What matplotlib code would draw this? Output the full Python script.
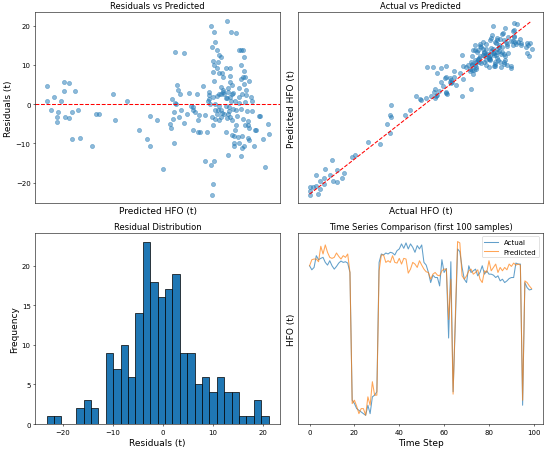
import numpy as np
import matplotlib
matplotlib.use("Agg")
import matplotlib.pyplot as plt

# ---- scatter data: predicted HFO (t) and residuals (t) ----
predicted = [
    18.65, 18.35, 26.85, 29.5, 27.15, 32.65, 22.0, 25.35, 20.5, 23.85,
    23.65, 23.35, 27.35, 29.35, 31.15, 34.15, 31.0, 35.0, 40.85, 42.85,
    44.35, 51.5, 52.5, 58.5, 64.35, 68.5, 70.15, 70.15, 73.5, 76.35,
    82.5, 87.0, 81.0, 83.35, 84.0, 85.0, 82.65, 83.15, 82.15, 81.35,
    80.0, 80.5, 82.15, 85.5, 84.65, 86.85, 88.65, 89.65, 93.35, 90.5,
    91.65, 91.35, 92.5, 91.65, 94.0, 94.85, 94.65, 94.0, 96.65, 97.35,
    98.65, 97.5,
    108.35, 100.5, 102.0, 110.35, 112.85, 102.5, 100.85, 103.35, 114.35, 115.35,
    116.5, 116.85, 104.5, 105.35, 101.5, 104.15, 102.0, 115.35, 103.35, 101.35,
    104.65, 108.0, 110.0, 105.85, 109.85, 106.65, 102.15, 109.85, 115.5, 116.35,
    117.5, 117.15, 119.35, 105.65, 106.35, 104.65, 105.5, 107.15, 109.0, 110.85,
    111.5, 99.5, 99.35, 101.35, 107.85, 108.5, 114.35, 116.0, 118.0, 118.15,
    120.5, 98.85, 100.0, 110.5, 112.5, 114.35, 121.15, 102.5, 104.65, 105.35,
    104.15, 108.0, 109.5, 109.65, 111.65, 113.0, 115.65, 118.65, 120.85, 124.65,
    102.5, 103.35, 105.5, 107.0, 108.35, 110.15, 111.0, 101.15, 102.65, 104.5,
    101.65, 113.35, 113.0, 116.65, 119.15, 118.85, 117.65, 119.65, 122.5, 123.0,
    128.85, 129.35, 126.35, 108.0, 112.65, 111.15, 111.85, 114.0, 116.0, 118.85,
    119.65, 112.0, 114.65, 117.15, 116.15, 112.15, 121.85, 115.5, 108.85, 102.0,
    100.35, 101.35, 101.15, 127.65, 99.65, 125.0,
    106.5, 108.85, 110.0, 103.5, 111.0, 106.0, 109.0, 114.5, 117.0, 117.5,
]
residuals = [
    4.6, 0.8, 5.6, 5.5, 3.3, 3.3, 1.8, 0.8, -1.5, -2.1,
    -3.4, -4.6, -3.2, -3.5, -2.0, -1.6, -8.8, -8.7, -10.7, -2.6,
    -2.5, 2.7, -4.0, 0.8, -6.5, -8.8, -3.1, -10.7, -4.0, -16.6,
    13.4, 13.1, 1.3, 4.9, 3.6, 2.6, 0.2, 0.1, -1.9, -3.9,
    -5.1, -6.1, -9.8, -1.5, -3.2, -4.9, -2.6, 2.9, 2.7, -0.4,
    -0.7, -1.5, -2.1, -6.6, -7.0, -7.0, -2.7, -4.1, 4.5, -2.8,
    -7.1, -14.4,
    21.2, 19.8, 18.5, 18.4, 18.1, 15.9, 14.6, 13.8, 13.8, 13.8,
    13.8, 11.9, 12.5, 12.1, 11.0, 10.8, 10.0, 10.1, 9.2, 8.3,
    8.0, 9.3, 9.2, 8.0, 7.1, 6.9, 5.8, 5.6, 6.3, 6.8,
    6.8, 5.2, 5.8, 4.3, 3.0, 2.5, 2.5, 2.5, 4.2, 2.5,
    2.9, 2.3, 1.4, 1.7, 1.5, 1.5, 1.9, 2.5, 3.7, 2.4,
    1.7, 0.8, 0.0, 0.8, 0.8, 0.2, 0.8, 0.0, -0.4, -1.5,
    -1.5, -0.4, -0.7, -1.7, -1.3, -1.5, -1.3, -1.7, -1.7, -3.1,
    -1.5, -2.6, -3.2, -2.6, -3.6, -3.4, -4.0, -3.4, -3.8, -4.0,
    -5.3, -3.1, -5.3, -3.9, -4.2, -5.3, -5.3, -6.0, -6.5, -6.7,
    -5.1, -7.5, -8.9, -7.0, -6.5, -7.9, -8.0, -8.5, -8.2, -8.7,
    -9.1, -9.8, -9.9, -10.8, -11.2, -10.8, -10.7, -13.1, -12.9, -14.4,
    -15.4, -20.4, -23.1, -16.1, 3.0, -3.1,
    3.5, 3.2, 1.8, 2.0, 4.8, -2.2, -2.5, 4.0, 8.5, 0.5,
]

# ---- histogram of residuals (counts per bin) ----
hist_min, hist_max = -23.3, 21.1
hist_counts = [1, 1, 0, 0, 2, 3, 2, 0, 9, 7, 10, 6, 14, 23, 18,
               16, 17, 19, 9, 9, 5, 6, 4, 6, 4, 4, 1, 1, 3, 1]

# ---- time series, first 100 samples ----
ts_actual = [
    112, 109.6, 111, 118, 115.6, 116.4, 117, 114, 112.4, 115,
    112, 110, 111.6, 113.6, 114.8, 114, 114.4, 113.6, 108, 32,
    30, 27, 26, 25, 24, 23, 29, 24, 34, 35,
    37, 114, 119, 118.4, 119.6, 119, 120, 119.6, 118.4, 121,
    122, 125, 122.4, 125.6, 122, 125, 123, 120, 124, 122,
    124.4, 114, 112.4, 108, 102, 106.4, 105, 105, 100, 115.6,
    108, 110.4, 69, 114.4, 37, 78, 122, 120.4, 111, 104,
    102, 112, 108, 109, 110, 106, 108, 112, 107, 109,
    107, 107, 106.4, 105, 106, 103, 104, 102, 103, 104.4,
    105, 105, 113.6, 113, 113, 29, 102, 99, 97.6, 98,
]
ts_predicted = [
    112, 115.6, 116, 116, 114.4, 123.6, 119, 124.4, 120, 117,
    116.4, 117, 119.6, 117.6, 116, 118, 117, 119, 108, 30,
    32, 28.4, 24, 27, 27, 23, 34, 29, 43, 35,
    35, 109, 118.4, 118.4, 114, 115, 114, 118, 114, 113.6,
    116.4, 113, 116.4, 116, 107.6, 110, 114, 113, 111, 115,
    112.4, 110, 108.4, 108, 104, 107, 108, 106.4, 106, 109,
    110, 110, 80, 104, 35.6, 82, 126.4, 125.6, 106, 104,
    106, 109, 110, 107, 108, 109.6, 104, 102, 109, 108,
    115, 109, 111, 113, 108, 111, 109, 111, 109.6, 113,
    111.6, 113.6, 112.4, 113, 112.4, 32, 103, 102, 100, 98.4,
]

pred = np.array(predicted)
resid = np.array(residuals)
actual = pred + resid

fig, axes = plt.subplots(2, 2, figsize=(11, 9.04), dpi=50)
fig.subplots_adjust(left=0.0645, right=0.9867, top=0.9706, bottom=0.0597,
                    wspace=0.077, hspace=0.154)

# Residuals vs Predicted
ax = axes[0, 0]
ax.scatter(pred, resid, alpha=0.5, color='C0')
ax.axhline(0, color='r', linestyle='--')
ax.set_title('Residuals vs Predicted', fontsize=12)
ax.set_xlabel('Predicted HFO (t)', fontsize=13)
ax.set_ylabel('Residuals (t)', fontsize=13)
ax.set_xticks([])

# Actual vs Predicted
ax = axes[0, 1]
ax.scatter(actual, pred, alpha=0.5, color='C0')
lo, hi = actual.min(), actual.max()
ax.plot([lo, hi], [lo, hi], 'r--')
ax.set_title('Actual vs Predicted', fontsize=12)
ax.set_xlabel('Actual HFO (t)', fontsize=13)
ax.set_ylabel('Predicted HFO (t)', fontsize=13)
ax.set_xticks([])
ax.set_yticks([])

# Residual distribution
ax = axes[1, 0]
edges = np.linspace(hist_min, hist_max, len(hist_counts) + 1)
ax.hist(edges[:-1], bins=edges, weights=hist_counts, color='C0', edgecolor='black')
ax.set_title('Residual Distribution', fontsize=12)
ax.set_xlabel('Residuals (t)', fontsize=13)
ax.set_ylabel('Frequency', fontsize=13)

# Time series
ax = axes[1, 1]
steps = np.arange(len(ts_actual))
ax.plot(steps, ts_actual, label='Actual', alpha=0.7)
ax.plot(steps, ts_predicted, label='Predicted', alpha=0.7)
ax.set_title('Time Series Comparison (first 100 samples)', fontsize=12)
ax.set_xlabel('Time Step', fontsize=13)
ax.set_ylabel('HFO (t)', fontsize=13)
ax.set_yticks([])
ax.legend(loc='upper right')

fig.savefig('out.png', dpi=50)
